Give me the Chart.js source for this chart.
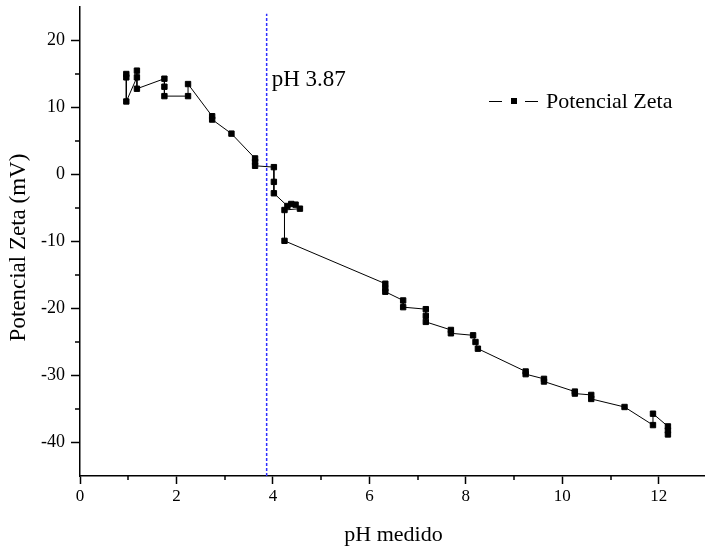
<!DOCTYPE html>
<html>
<head>
<meta charset="utf-8">
<script src="https://cdn.jsdelivr.net/npm/chart.js@4.4.1/dist/chart.umd.min.js"></script>
<style>
  html, body { margin: 0; padding: 0; background: #fff; overflow: hidden; }
  #wrap { width: 705px; height: 548px; overflow: hidden; position: relative; }
  canvas { display: block; }
</style>
</head>
<body>
<div id="wrap"><canvas id="c" width="712" height="548"></canvas></div>
<script>
// ---- data ----
const phMedido = [
  0.96, 0.96, 0.96, 1.18, 1.18, 1.18, 1.75, 1.75, 1.75, 2.24, 2.24,
  2.74, 2.74, 3.14, 3.63, 3.63, 3.63, 4.02, 4.02, 4.02,
  4.30, 4.38, 4.47, 4.56, 4.24, 4.24,
  6.33, 6.33, 6.33, 6.70, 6.70, 7.17, 7.17, 7.17, 7.69, 7.69,
  8.15, 8.20, 8.25, 9.24, 9.24, 9.62, 9.62, 10.26, 10.26, 10.60, 10.60,
  11.29, 11.88, 11.88, 12.19, 12.19, 12.19
];
const potencialZeta = [
  15.0, 14.5, 10.9, 14.5, 15.5, 12.8, 14.3, 13.1, 11.7, 11.7, 13.5,
  8.7, 8.2, 6.1, 2.4, 1.9, 1.3, 1.1, -1.1, -2.8,
  -4.7, -4.4, -4.5, -5.1, -5.3, -9.9,
  -16.3, -17.0, -17.5, -18.8, -19.8, -20.1, -21.1, -22.0, -23.2, -23.7,
  -24.0, -25.0, -26.0, -29.4, -29.8, -30.5, -30.9, -32.4, -32.7, -32.9, -33.5,
  -34.7, -37.4, -35.7, -37.6, -38.2, -38.8
];
const xTickValues = [0, 2, 4, 6, 8, 10, 12];
const yTickValues = [-40, -30, -20, -10, 0, 10, 20];
const xMinorTicks = [1, 3, 5, 7, 9, 11];
const yMinorTicks = [-35, -25, -15, -5, 5, 15];
const refPH = 3.87;
const refLineY = [-45, 24];
const seriesName = 'Potencial Zeta';
const refLabel = 'pH 3.87';
const xTitle = 'pH medido';
const yTitle = 'Potencial Zeta (mV)';

const serif = "'Liberation Serif', 'Times New Roman', serif";

const points = phMedido.map((x, i) => ({ x: x, y: potencialZeta[i] }));
const refLine = refLineY.map(y => ({ x: refPH, y: y }));

const extras = {
  id: 'extras',
  afterDraw(chart) {
    const ctx = chart.ctx;
    const xs = chart.scales.x, ys = chart.scales.y;
    const area = chart.chartArea;
    ctx.save();
    // minor ticks
    ctx.strokeStyle = '#000';
    ctx.lineWidth = 1.5;
    ctx.beginPath();
    xMinorTicks.forEach(v => {
      const px = Math.round(xs.getPixelForValue(v));
      ctx.moveTo(px, area.bottom);
      ctx.lineTo(px, area.bottom + 4);
    });
    yMinorTicks.forEach(v => {
      const py = Math.round(ys.getPixelForValue(v));
      ctx.moveTo(area.left, py);
      ctx.lineTo(area.left - 5, py);
    });
    ctx.stroke();
    // y axis title
    ctx.fillStyle = '#000';
    ctx.save();
    ctx.translate(19, (area.top + area.bottom) / 2 + 6);
    ctx.rotate(-Math.PI / 2);
    ctx.font = '23px ' + serif;
    ctx.textAlign = 'center';
    ctx.textBaseline = 'middle';
    ctx.fillText(yTitle, 0, 0);
    ctx.restore();
    // reference label
    ctx.font = '23px ' + serif;
    ctx.textBaseline = 'alphabetic';
    ctx.textAlign = 'left';
    ctx.fillText(refLabel, xs.getPixelForValue(refPH) + 5, area.top + 79);
    // legend
    const ly = Math.round(area.top + 94) + 0.5;
    const lx = Math.round(area.right - 218);
    ctx.lineWidth = 1;
    ctx.beginPath();
    ctx.moveTo(lx, ly); ctx.lineTo(lx + 13, ly);
    ctx.moveTo(lx + 36, ly); ctx.lineTo(lx + 49, ly);
    ctx.stroke();
    ctx.fillRect(lx + 22, ly - 3.5, 6, 6);
    ctx.font = '22px ' + serif;
    ctx.textBaseline = 'middle';
    ctx.fillText(seriesName, lx + 57, ly + 1);
    ctx.restore();
  }
};

new Chart(document.getElementById('c'), {
  type: 'scatter',
  data: {
    datasets: [
      {
        label: seriesName,
        data: points,
        showLine: true,
        borderColor: '#000',
        borderWidth: 1,
        backgroundColor: '#000',
        pointStyle: 'rect',
        pointRadius: 3.8,
        pointBorderWidth: 1,
        pointBorderColor: '#000',
        pointBackgroundColor: '#000',
        tension: 0
      },
      {
        label: refLabel,
        data: refLine,
        showLine: true,
        borderColor: 'rgb(45,45,255)',
        borderWidth: 1.5,
        borderDash: [3, 2],
        pointRadius: 0,
        tension: 0
      }
    ]
  },
  options: {
    responsive: false,
    animation: false,
    events: [],
    layout: { padding: { top: 7, right: 0, left: 0, bottom: 0 } },
    plugins: { legend: { display: false }, tooltip: { enabled: false } },
    scales: {
      x: {
        type: 'linear',
        min: 0, max: 13,
        afterBuildTicks: s => { s.ticks = xTickValues.map(v => ({ value: v })); },
        afterFit: s => { s.height = 72; s.paddingLeft = 0; s.paddingRight = 0; },
        ticks: {
          autoSkip: false, maxRotation: 0, padding: 2,
          color: '#000',
          font: { family: serif, size: 17 },
          callback: v => String(v)
        },
        grid: {
          drawOnChartArea: false, drawTicks: true, tickLength: 8,
          tickColor: '#000', tickWidth: 1.5
        },
        border: { display: true, color: '#000', width: 1.5 },
        title: {
          display: true, text: xTitle, color: '#000',
          font: { family: serif, size: 22 },
          padding: { top: 0, bottom: 0 }
        }
      },
      y: {
        type: 'linear',
        min: -45, max: 25,
        afterBuildTicks: s => { s.ticks = yTickValues.map(v => ({ value: v })); },
        afterFit: s => { s.width = 80; s.paddingTop = 0; s.paddingBottom = 0; },
        ticks: {
          autoSkip: false, padding: 6,
          color: '#000',
          font: { family: serif, size: 18 },
          callback: v => String(v)
        },
        grid: {
          drawOnChartArea: false, drawTicks: true, tickLength: 9,
          tickColor: '#000', tickWidth: 1.5
        },
        border: { display: true, color: '#000', width: 1.5 },
        title: { display: false, text: yTitle }
      }
    }
  },
  plugins: [extras]
});
</script>
</body>
</html>
